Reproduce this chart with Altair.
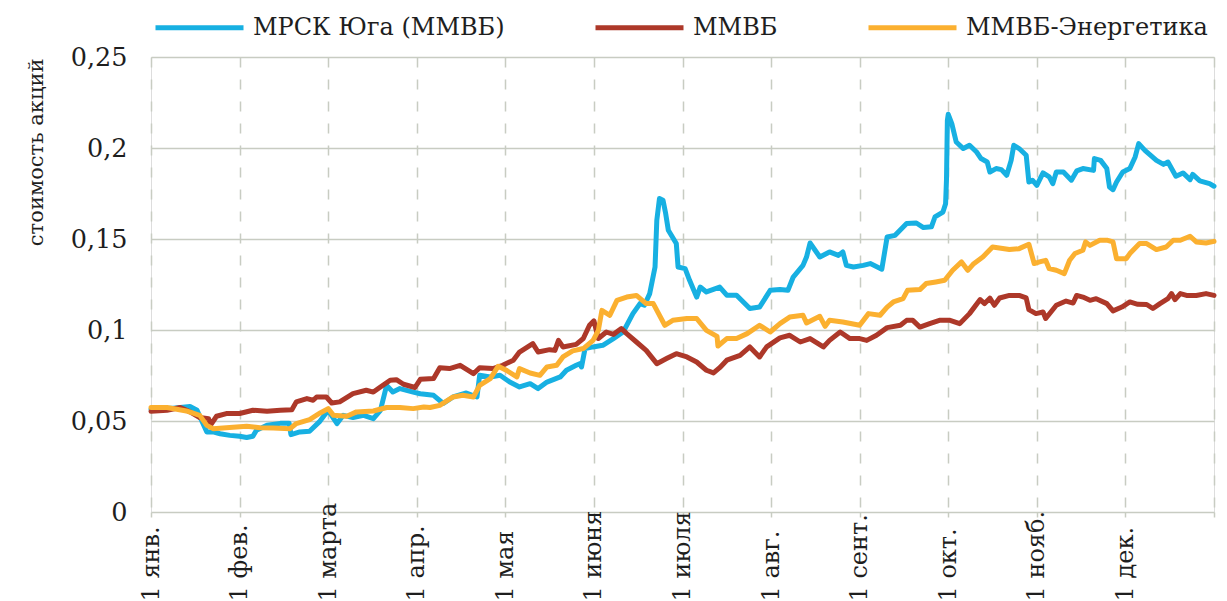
import altair as alt
import pandas as pd

# ---- data (x in months since 1 Jan, y = share price) ----
month_labels = ["1 янв.", "1 фев.", "1 марта", "1 апр.", "1 мая", "1 июня",
                "1 июля", "1 авг.", "1 сент.", "1 окт.", "1 нояб.", "1 дек."]
series_names = ["МРСК Юга (ММВБ)", "ММВБ", "ММВБ-Энергетика"]
series_colors = ["#17B0E2", "#AD3829", "#FBB030"]

mrsk_t = [0.00, 0.10, 0.25, 0.44, 0.52, 0.57, 0.63, 0.70, 0.78, 0.89, 1.00, 1.08, 1.15, 1.19,
          1.31, 1.46, 1.56, 1.58, 1.68, 1.79, 1.90, 2.00, 2.10, 2.17, 2.28, 2.40, 2.51, 2.59,
          2.66, 2.73, 2.81, 2.96, 3.04, 3.19, 3.30, 3.41, 3.56, 3.68, 3.71, 3.83, 3.94, 4.05,
          4.16, 4.28, 4.37, 4.47, 4.62, 4.69, 4.80, 4.84, 4.86, 4.90, 4.99, 5.10, 5.22, 5.33,
          5.44, 5.52, 5.57, 5.63, 5.69, 5.71, 5.74, 5.78, 5.81, 5.84, 5.93, 5.95, 6.03, 6.08,
          6.16, 6.20, 6.27, 6.42, 6.50, 6.61, 6.76, 6.87, 6.99, 7.10, 7.19, 7.25, 7.36, 7.40,
          7.44, 7.55, 7.66, 7.76, 7.81, 7.85, 7.93, 8.04, 8.12, 8.25, 8.31, 8.40, 8.53, 8.64,
          8.72, 8.81, 8.85, 8.94, 8.97, 8.98, 8.99, 9.00, 9.04, 9.09, 9.17, 9.24, 9.32, 9.37,
          9.44, 9.47, 9.54, 9.60, 9.66, 9.71, 9.74, 9.80, 9.88, 9.91, 9.95, 10.00, 10.07, 10.14,
          10.18, 10.22, 10.30, 10.39, 10.45, 10.52, 10.64, 10.65, 10.72, 10.79, 10.82, 10.86,
          10.90, 10.97, 11.05, 11.11, 11.15, 11.22, 11.35, 11.43, 11.48, 11.57, 11.65, 11.73,
          11.76, 11.84, 11.95, 12.00]
mrsk_v = [0.0565, 0.0570, 0.0570, 0.0580, 0.0559, 0.0504, 0.0440, 0.0440, 0.0430, 0.0421, 0.0416,
          0.0409, 0.0416, 0.0449, 0.0477, 0.0487, 0.0487, 0.0425, 0.0440, 0.0444, 0.0495, 0.0559,
          0.0486, 0.0531, 0.0519, 0.0531, 0.0513, 0.0559, 0.0696, 0.0659, 0.0678, 0.0659, 0.0650,
          0.0641, 0.0596, 0.0632, 0.0654, 0.0632, 0.0751, 0.0742, 0.0751, 0.0714, 0.0687, 0.0705,
          0.0678, 0.0714, 0.0742, 0.0779, 0.0806, 0.0815, 0.0797, 0.0898, 0.0907, 0.0916, 0.0953,
          0.0989, 0.1090, 0.1145, 0.1136, 0.1200, 0.1346, 0.1603, 0.1722, 0.1713, 0.1640, 0.1548,
          0.1475, 0.1346, 0.1337, 0.1273, 0.1181, 0.1236, 0.1209, 0.1236, 0.1191, 0.1191, 0.1118,
          0.1126, 0.1218, 0.1222, 0.1218, 0.1291, 0.1355, 0.1401, 0.1478, 0.1401, 0.1429, 0.1410,
          0.1429, 0.1355, 0.1346, 0.1355, 0.1365, 0.1334, 0.1511, 0.1520, 0.1585, 0.1588, 0.1563,
          0.1567, 0.1621, 0.1648, 0.1694, 0.1823, 0.2152, 0.2185, 0.2134, 0.2033, 0.1997, 0.2015,
          0.1978, 0.1942, 0.1923, 0.1868, 0.1887, 0.1881, 0.1850, 0.1932, 0.2015, 0.1997, 0.1960,
          0.1813, 0.1823, 0.1795, 0.1863, 0.1841, 0.1804, 0.1868, 0.1868, 0.1823, 0.1874, 0.1887,
          0.1877, 0.1942, 0.1932, 0.1887, 0.1786, 0.1771, 0.1813, 0.1868, 0.1887, 0.1951, 0.2024,
          0.1987, 0.1932, 0.1910, 0.1923, 0.1845, 0.1863, 0.1826, 0.1855, 0.1819, 0.1804, 0.1790]

micex_t = [0.00, 0.18, 0.33, 0.44, 0.55, 0.65, 0.67, 0.74, 0.85, 1.00, 1.15, 1.31, 1.46, 1.59,
           1.64, 1.76, 1.83, 1.87, 1.98, 2.04, 2.13, 2.28, 2.43, 2.51, 2.59, 2.70, 2.77, 2.85,
           2.98, 3.04, 3.19, 3.26, 3.37, 3.49, 3.64, 3.71, 3.86, 3.97, 4.09, 4.16, 4.31, 4.37,
           4.50, 4.56, 4.60, 4.65, 4.80, 4.88, 4.95, 5.00, 5.05, 5.14, 5.22, 5.31, 5.37, 5.48,
           5.59, 5.71, 5.82, 5.93, 6.05, 6.16, 6.27, 6.35, 6.42, 6.50, 6.65, 6.76, 6.87, 6.95,
           7.10, 7.21, 7.33, 7.44, 7.59, 7.66, 7.78, 7.89, 8.00, 8.08, 8.19, 8.31, 8.46, 8.53,
           8.60, 8.68, 8.79, 8.90, 9.02, 9.13, 9.24, 9.36, 9.41, 9.47, 9.52, 9.58, 9.69, 9.80,
           9.88, 9.91, 9.99, 10.07, 10.10, 10.22, 10.33, 10.41, 10.45, 10.52, 10.60, 10.67, 10.79,
           10.86, 10.96, 11.05, 11.14, 11.24, 11.31, 11.39, 11.48, 11.52, 11.56, 11.62, 11.69,
           11.80, 11.91, 12.00]
micex_v = [0.0553, 0.0559, 0.0574, 0.0550, 0.0519, 0.0513, 0.0476, 0.0526, 0.0541, 0.0541, 0.0559,
           0.0553, 0.0559, 0.0562, 0.0605, 0.0623, 0.0614, 0.0632, 0.0632, 0.0599, 0.0605, 0.0650,
           0.0669, 0.0659, 0.0687, 0.0724, 0.0727, 0.0702, 0.0684, 0.0729, 0.0733, 0.0793, 0.0788,
           0.0806, 0.0760, 0.0793, 0.0788, 0.0806, 0.0834, 0.0879, 0.0925, 0.0879, 0.0892, 0.0888,
           0.0943, 0.0907, 0.0921, 0.0953, 0.1026, 0.1050, 0.0953, 0.0989, 0.0976, 0.1008, 0.0980,
           0.0934, 0.0888, 0.0815, 0.0843, 0.0870, 0.0852, 0.0824, 0.0779, 0.0764, 0.0793, 0.0834,
           0.0861, 0.0907, 0.0852, 0.0907, 0.0957, 0.0971, 0.0934, 0.0953, 0.0907, 0.0943, 0.0989,
           0.0953, 0.0953, 0.0943, 0.0971, 0.1013, 0.1026, 0.1053, 0.1053, 0.1016, 0.1035, 0.1053,
           0.1053, 0.1035, 0.1090, 0.1167, 0.1145, 0.1175, 0.1136, 0.1176, 0.1190, 0.1190, 0.1176,
           0.1112, 0.1090, 0.1099, 0.1063, 0.1136, 0.1159, 0.1148, 0.1190, 0.1181, 0.1163, 0.1172,
           0.1145, 0.1105, 0.1126, 0.1154, 0.1141, 0.1140, 0.1118, 0.1145, 0.1172, 0.1200, 0.1167,
           0.1200, 0.1190, 0.1190, 0.1200, 0.1190]

energy_t = [0.00, 0.18, 0.40, 0.55, 0.63, 0.70, 0.85, 1.08, 1.23, 1.38, 1.57, 1.64, 1.79, 1.91,
            2.00, 2.06, 2.21, 2.32, 2.51, 2.66, 2.81, 2.96, 3.08, 3.15, 3.26, 3.41, 3.52, 3.64,
            3.71, 3.83, 3.92, 4.01, 4.13, 4.16, 4.28, 4.39, 4.47, 4.58, 4.65, 4.76, 4.88, 4.99,
            5.05, 5.09, 5.18, 5.26, 5.37, 5.48, 5.59, 5.67, 5.80, 5.89, 6.05, 6.16, 6.27, 6.39,
            6.40, 6.50, 6.61, 6.73, 6.87, 6.99, 7.10, 7.21, 7.36, 7.40, 7.55, 7.61, 7.66, 7.81,
            8.00, 8.10, 8.23, 8.31, 8.38, 8.49, 8.54, 8.68, 8.75, 8.86, 8.96, 9.05, 9.15, 9.22,
            9.28, 9.39, 9.50, 9.69, 9.80, 9.91, 9.97, 10.03, 10.10, 10.14, 10.22, 10.31, 10.37,
            10.43, 10.52, 10.55, 10.60, 10.71, 10.80, 10.86, 10.90, 11.01, 11.05, 11.16, 11.24,
            11.35, 11.46, 11.54, 11.62, 11.73, 11.80, 11.91, 12.00]
energy_v = [0.0574, 0.0574, 0.0555, 0.0531, 0.0476, 0.0458, 0.0463, 0.0471, 0.0463, 0.0462, 0.0458,
            0.0486, 0.0508, 0.0544, 0.0568, 0.0531, 0.0526, 0.0550, 0.0555, 0.0574, 0.0574, 0.0568,
            0.0577, 0.0574, 0.0586, 0.0632, 0.0641, 0.0632, 0.0696, 0.0733, 0.0801, 0.0779, 0.0742,
            0.0788, 0.0764, 0.0751, 0.0797, 0.0806, 0.0852, 0.0885, 0.0898, 0.0943, 0.0998, 0.1108,
            0.1081, 0.1163, 0.1181, 0.1190, 0.1145, 0.1145, 0.1026, 0.1053, 0.1063, 0.1063, 0.0998,
            0.0965, 0.0912, 0.0953, 0.0953, 0.0980, 0.1026, 0.0989, 0.1035, 0.1071, 0.1081, 0.1039,
            0.1075, 0.1020, 0.1053, 0.1044, 0.1026, 0.1090, 0.1081, 0.1126, 0.1154, 0.1172, 0.1218,
            0.1222, 0.1255, 0.1264, 0.1273, 0.1328, 0.1374, 0.1328, 0.1361, 0.1401, 0.1456, 0.1442,
            0.1447, 0.1471, 0.1365, 0.1374, 0.1383, 0.1337, 0.1328, 0.1310, 0.1383, 0.1420, 0.1438,
            0.1484, 0.1465, 0.1493, 0.1493, 0.1484, 0.1392, 0.1392, 0.1420, 0.1475, 0.1475, 0.1442,
            0.1456, 0.1493, 0.1493, 0.1515, 0.1484, 0.1478, 0.1487]

y_ticks = [0, 0.05, 0.1, 0.15, 0.2, 0.25]

rows = []
for name, ts, vs in [(series_names[0], mrsk_t, mrsk_v),
                     (series_names[1], micex_t, micex_v),
                     (series_names[2], energy_t, energy_v)]:
    for i, (t, v) in enumerate(zip(ts, vs)):
        rows.append({"series": name, "t": t, "v": v, "idx": i})
df = pd.DataFrame(rows)

FONT = "DejaVu Serif"
GRID = "#C8CCC2"
TXT = "#1E1E1E"
label_js = "[" + ",".join("'%s'" % m for m in month_labels) + "][datum.value] || ''"

chart = alt.Chart(df).mark_line(strokeWidth=5, strokeJoin="round", strokeCap="round").encode(
    x=alt.X("t:Q",
            scale=alt.Scale(domain=[0, 12], nice=False, zero=False),
            axis=alt.Axis(values=list(range(13)), labelExpr=label_js, title=None,
                          labelAngle=-90, labelAlign="left", labelBaseline="middle",
                          labelPadding=84, tickSize=5, tickColor=GRID, tickWidth=1.5,
                          domain=False, grid=True, gridDash=[10, 12], gridColor=GRID,
                          gridWidth=1.5, labelFont=FONT, labelFontSize=24,
                          labelColor=TXT, labelOverlap=False, labelFlush=False,
                          labelLimit=0)),
    y=alt.Y("v:Q",
            scale=alt.Scale(domain=[0, 0.25], nice=False),
            axis=alt.Axis(values=y_ticks, labelExpr="replace(toString(datum.value), '.', ',')",
                          title="стоимость акций", titleFont=FONT, titleFontSize=21,
                          titleFontWeight="normal", titleColor=TXT,
                          titleAngle=-90, titleAlign="right", titleBaseline="alphabetic",
                          titleX=-109, titleY=1,
                          domain=False, ticks=False, labelPadding=24, grid=True,
                          gridColor=GRID, gridWidth=1.5, labelFont=FONT, labelFontSize=25.5,
                          labelColor=TXT)),
    color=alt.Color("series:N",
                    scale=alt.Scale(domain=series_names, range=series_colors),
                    legend=alt.Legend(orient="none", legendX=2, legendY=-76,
                                      direction="horizontal", title=None,
                                      symbolType="stroke", symbolSize=7744,
                                      symbolStrokeWidth=5, labelFont=FONT,
                                      labelFontSize=24, labelColor=TXT, labelLimit=0,
                                      labelOffset=7, columnPadding=80, padding=0)),
    order=alt.Order("idx:Q"),
).properties(
    width=1063, height=455,
    autosize=alt.AutoSizeParams(type="none"),
    padding={"left": 143, "top": 49, "right": 5, "bottom": 110},
).configure_view(stroke=None).configure(background="white")

chart.save("out.html", embed_options={"renderer": "svg", "actions": False})
